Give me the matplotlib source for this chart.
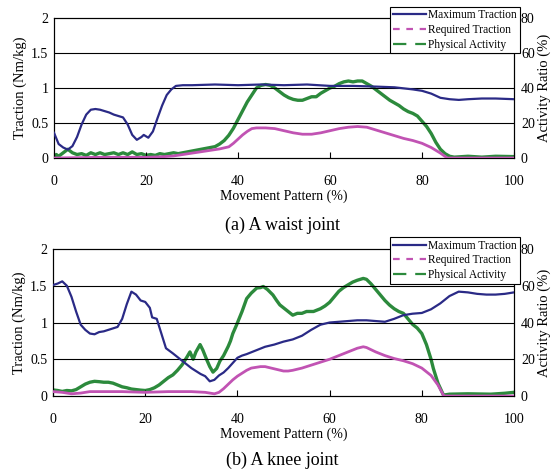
import matplotlib
matplotlib.use("Agg")
import matplotlib.pyplot as plt
from matplotlib.lines import Line2D

plt.rcParams["font.family"] = ["Liberation Serif", "DejaVu Serif"]

# (a) waist joint
waist_max_x = [0, 1, 2, 3, 4, 5, 6, 7, 8, 9, 10, 11, 12, 13, 14, 15, 16, 17, 18, 19, 19.5, 20.5,
               21.5, 22.5, 23.5, 24.5, 25.5, 26.5, 28, 30, 35, 40, 45, 50, 55, 60, 65, 70, 74, 78,
               80, 82, 84, 86, 88, 90, 93, 96, 100]
waist_max = [0.36, 0.2, 0.15, 0.12, 0.17, 0.3, 0.48, 0.62, 0.69, 0.7, 0.69, 0.67, 0.65, 0.62, 0.6,
             0.58, 0.48, 0.33, 0.26, 0.3, 0.33, 0.29, 0.38, 0.57, 0.75, 0.9, 0.98, 1.03, 1.04, 1.04,
             1.05, 1.04, 1.05, 1.04, 1.05, 1.03, 1.03, 1.02, 1.01, 0.98, 0.96, 0.92, 0.86, 0.84,
             0.83, 0.84, 0.85, 0.85, 0.84]

waist_req_x = [0, 10, 20, 24, 26, 28, 30, 32, 34, 36, 38, 39, 40, 41, 42, 43, 44, 46, 48, 50, 52,
               54, 56, 58, 60, 62, 64, 66, 68, 70, 72, 74, 76, 78, 80, 82, 84, 85.5, 100]
waist_req = [0.0, 0.01, 0.01, 0.02, 0.03, 0.05, 0.07, 0.09, 0.11, 0.13, 0.16, 0.21, 0.27, 0.33,
             0.38, 0.42, 0.43, 0.43, 0.42, 0.39, 0.36, 0.34, 0.34, 0.36, 0.39, 0.42, 0.44, 0.45,
             0.44, 0.4, 0.36, 0.32, 0.28, 0.25, 0.21, 0.15, 0.07, 0.0, 0.0]

waist_act_x = [0, 0.5, 1, 2, 3, 4, 5, 6, 7, 8, 9, 10, 11, 12, 13, 14, 15, 16, 17, 18, 19, 20, 21,
               22, 23, 24, 25, 26, 27, 28, 30, 32, 34, 35, 36, 37, 38, 39, 40, 41, 42, 43, 44, 45,
               46, 47, 48, 49, 50, 51, 52, 53, 54, 55, 56, 57, 58, 59, 60, 61, 62, 63, 64, 65, 66,
               67, 68, 69, 70, 71, 72, 73, 74, 75, 76, 77, 78, 79, 80, 81, 82, 83, 84, 85, 86, 87,
               90, 93, 96, 100]
waist_act = [0, 2, 1, 3, 5, 3, 2, 2.5, 1.5, 3, 2, 3, 2, 2.5, 3, 2, 3, 2, 3.5, 2, 2.5, 1.5, 2, 1.5,
             2.5, 2, 2.5, 3, 2.5, 3, 4, 5, 6, 6.5, 8, 10, 13, 17, 22, 27, 32, 36, 40, 41.5, 42, 41.5,
             40, 38, 36, 34.5, 33.5, 33, 33, 34, 35, 35, 37, 38.5, 40, 41, 42.5, 43.5, 44, 43.5, 44,
             44, 42.5, 41, 39, 37, 35, 33, 31.5, 30, 28, 26.5, 25.5, 24, 21, 18, 14, 9, 5, 2.5, 1,
             0.5, 1, 0.5, 1, 0.8]

# (b) knee joint
knee_max_x = [0, 1, 2, 3, 4, 5, 6, 7, 8, 9, 10, 11, 12, 13, 14, 15, 16, 17, 18, 19, 20, 21, 21.5,
              22.5, 23.5, 24.5, 26, 28, 30, 32, 33, 34, 35, 36, 37, 38, 39, 40, 41, 42, 44, 46, 48,
              50, 52, 54, 56, 58, 60, 62, 64, 66, 68, 70, 72, 74, 76, 78, 80, 82, 84, 86, 88, 90,
              92, 94, 96, 98, 100]
knee_max = [1.51, 1.53, 1.56, 1.5, 1.35, 1.15, 0.97, 0.9, 0.85, 0.84, 0.87, 0.88, 0.9, 0.92, 0.94,
            1.05, 1.25, 1.42, 1.38, 1.3, 1.28, 1.2, 1.07, 1.05, 0.85, 0.65, 0.58, 0.48, 0.38, 0.3,
            0.27, 0.2, 0.22, 0.28, 0.32, 0.38, 0.45, 0.52, 0.55, 0.57, 0.62, 0.67, 0.7, 0.74,
            0.77, 0.82, 0.9, 0.97, 1.0, 1.01, 1.02, 1.03, 1.03, 1.02, 1.01, 1.05, 1.1, 1.12, 1.13,
            1.18, 1.26, 1.36, 1.42, 1.41, 1.39, 1.38, 1.38, 1.39, 1.41]

knee_req_x = [0, 2, 4, 6, 8, 10, 15, 20, 25, 30, 33, 35, 36, 37, 38, 39, 40, 41, 42, 43, 44, 45,
              46, 48, 50, 51, 52, 54, 56, 58, 60, 62, 64, 66, 67.3, 68, 70, 72, 74, 76, 78, 80, 82,
              83.5, 84.7, 85, 100]
knee_req = [0.06, 0.05, 0.03, 0.04, 0.06, 0.06, 0.06, 0.05, 0.06, 0.06, 0.05, 0.03, 0.05, 0.1,
            0.16, 0.22, 0.27, 0.31, 0.35, 0.38, 0.39, 0.4, 0.4, 0.37, 0.34, 0.34, 0.35, 0.38, 0.42,
            0.46, 0.5, 0.55, 0.6, 0.65, 0.67, 0.66, 0.6, 0.55, 0.51, 0.48, 0.44, 0.38, 0.28, 0.15,
            0.01, 0.0, 0.0]

knee_act_x = [0, 1, 2, 3, 4, 5, 6, 7, 8, 9, 10, 11, 12, 13, 14, 15, 16, 17, 18, 19, 20, 21, 22,
              23, 24, 25, 26, 27, 28, 29, 29.7, 30.4, 31, 31.9, 32.5, 33.3, 34, 34.7, 35.5, 36.2,
              37, 38, 38.5, 39, 39.8, 41, 42, 43, 44.2, 45, 45.6, 46.5, 47.7, 48.5, 49.2, 50, 51,
              52, 53, 54, 55, 56.5, 58, 59, 60, 61, 62, 63, 64, 65, 66, 67.3, 68, 69, 70, 71, 72,
              73, 74, 75, 76, 77, 78, 79, 80, 81, 82, 82.5, 83.5, 84.7, 86, 90, 95, 98, 100]
knee_act = [3.3, 3, 2.5, 3, 2.8, 3.5, 5, 6.5, 7.5, 8, 7.8, 7.5, 7.5, 7, 6, 5, 4.5, 3.8, 3.5, 3.2,
            3, 3.5, 4.5, 6, 8, 10, 11.5, 14, 17, 21, 24, 20, 24, 28, 25, 20, 16, 13, 15, 19, 22,
            27, 30, 34, 38.6, 46, 53, 56, 58.8, 59, 59.6, 58, 55, 52, 49.6, 48, 46, 44, 45, 45, 46,
            46, 47.5, 49, 51, 54, 57, 59, 60.5, 62, 63, 64, 63.5, 61, 58, 55, 52, 49.5, 47.5, 46,
            45, 42, 39, 37, 34, 28, 20, 15, 7, 0.5, 1, 1.2, 1, 1.5, 2]

x_ticks = [0, 20, 40, 60, 80, 100]
traction_ticks = [0, 0.5, 1, 1.5, 2]
traction_labels = ["0", "0.5", "1", "1.5", "2"]
activity_ticks = [0, 20, 40, 60, 80]

c_max = "#2a2a86"
c_req = "#c153b3"
c_act = "#2c8a3c"

panels = [
    (waist_max_x, waist_max, waist_req_x, waist_req, waist_act_x, waist_act, "(a) A waist joint"),
    (knee_max_x, knee_max, knee_req_x, knee_req, knee_act_x, knee_act, "(b) A knee joint"),
]
rects = [[0.0977, 0.6645, 0.8318, 0.2973], [0.0959, 0.1592, 0.8336, 0.3121]]
caption_y = [0.503, 0.004]

fig = plt.figure(figsize=(5.53, 4.71), dpi=100)

for (mx, my, rx, ry, ax_x, ay, caption), rect, cy in zip(panels, rects, caption_y):
    ax = fig.add_axes(rect)
    ax.set_xlim(0, 100)
    ax.set_ylim(0, 2)
    for g in [0.5, 1, 1.5]:
        ax.axhline(g, color="black", lw=0.8, zorder=1)
    ax.plot(rx, ry, color=c_req, lw=2.0, zorder=3)
    ax.plot(mx, my, color=c_max, lw=1.6, zorder=4)
    ax.set_xticks(x_ticks)
    ax.set_yticks(traction_ticks)
    ax.set_yticklabels(traction_labels)
    ax.tick_params(axis="x", direction="in", length=4, pad=12, labelsize=10)
    ax.tick_params(axis="y", length=0, pad=4, labelsize=10)
    ax.set_xlabel("Movement Pattern (%)", fontsize=10, labelpad=1)
    ax.set_ylabel("Traction (Nm/kg)", fontsize=10.5, labelpad=3)

    ax2 = ax.twinx()
    ax2.set_ylim(0, 80)
    ax2.plot(ax_x, ay, color=c_act, lw=2.4, zorder=2)
    ax2.set_yticks(activity_ticks)
    ax2.tick_params(axis="y", length=0, pad=5, labelsize=10)
    ax2.set_ylabel("Activity Ratio (%)", fontsize=10.5, labelpad=2)
    ax.set_zorder(ax2.get_zorder() + 1)
    ax.patch.set_visible(False)

    handles = [
        Line2D([], [], color=c_max, lw=1.6),
        Line2D([], [], color=c_req, lw=1.6, ls=(0, (3, 3))),
        Line2D([], [], color=c_act, lw=1.6, ls=(0, (6, 4))),
    ]
    leg = ax.legend(handles, ["Maximum Traction", "Required Traction", "Physical Activity"],
                    loc="upper right", bbox_to_anchor=(1.012, 1.08), fontsize=8.3,
                    fancybox=False, framealpha=1, edgecolor="black", handlelength=2.9,
                    handletextpad=0.2, borderpad=0.2, labelspacing=0.25, borderaxespad=0)
    leg.get_frame().set_linewidth(0.8)
    leg.set_zorder(10)

    fig.text(0.51, cy, caption, ha="center", va="bottom", fontsize=13)

fig.savefig("out.png", dpi=100)
